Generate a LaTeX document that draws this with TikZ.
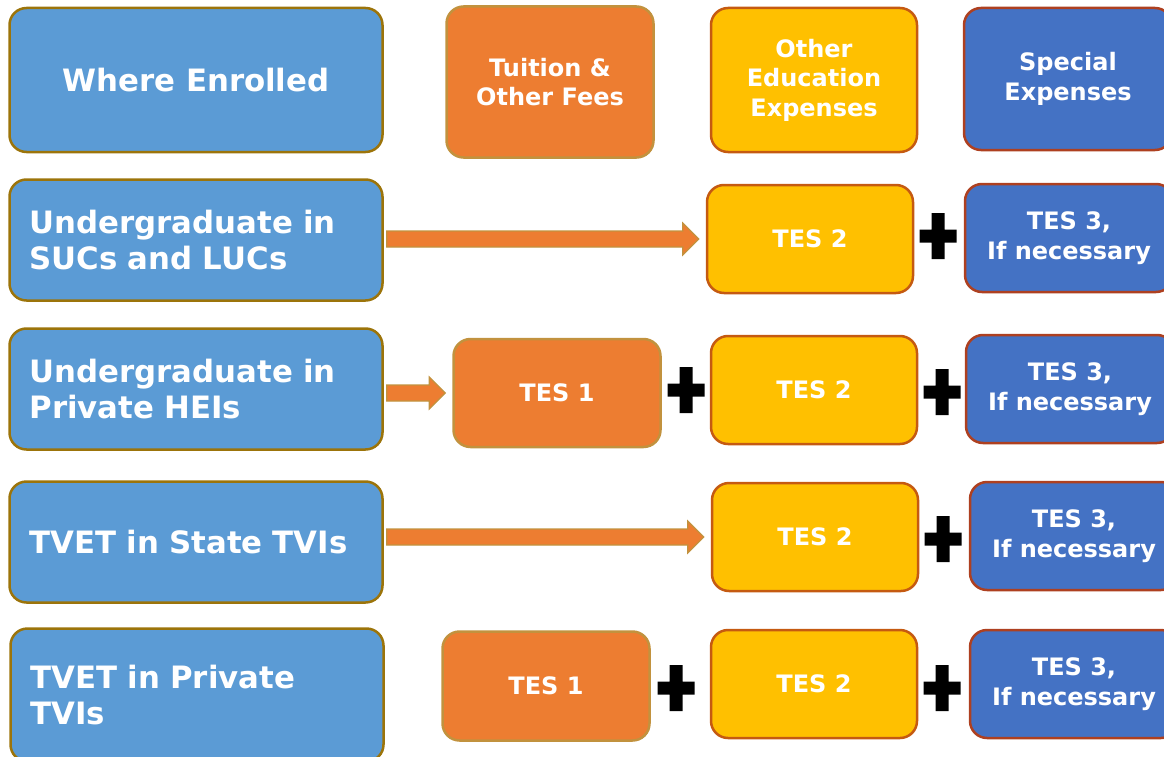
\documentclass[tikz,border=0pt]{standalone}
\usepackage{fontspec}
\setmainfont{DejaVu Sans}
\usetikzlibrary{calc}

\definecolor{enrolblue}{RGB}{91,155,213}
\definecolor{enrolline}{RGB}{156,116,10}
\definecolor{feeorange}{RGB}{237,125,49}
\definecolor{feeline}{RGB}{194,146,62}
\definecolor{expyellow}{RGB}{255,192,0}
\definecolor{expline}{RGB}{197,90,17}
\definecolor{specblue}{RGB}{68,114,196}
\definecolor{specline}{RGB}{174,64,32}

% fat arrow from the east side of #1 to the west side of #2
\newcommand{\FatArrow}[2]{%
  \draw[Arrow] let \p1=(#1.east), \p2=(#2.west) in
    (\x1+3pt,\y2+8pt) -- (\x2-23pt,\y2+8pt) -- (\x2-23pt,\y2+16pt)
    -- (\x2-7pt,\y2) -- (\x2-23pt,\y2-16pt) -- (\x2-23pt,\y2-8pt)
    -- (\x1+3pt,\y2-8pt) -- cycle;}
% heavy plus sign
\newcommand{\PlusSign}[1]{%
  \fill #1 +(-18.5,-6.5) rectangle +(18.5,6.5)
        #1 +(-6.5,-23) rectangle +(6.5,23);}

\begin{document}
\begin{tikzpicture}[x=1pt,y=-1pt]

  \useasboundingbox (0,0) rectangle (1164,757);
  \clip (0,0) rectangle (1164,757);

  % node styles
  \tikzstyle{Box}=[
  shape=rectangle,rounded corners=17pt,draw,
  line width=2.5pt,
  text=white,
  align=center,
  inner sep=0pt,
  font=\fontsize{24}{29.5}\selectfont\bfseries]

  \tikzstyle{Where}=[Box,fill=enrolblue,draw=enrolline,
  minimum width=373pt,minimum height=121pt,
  font=\fontsize{30.8}{36}\selectfont\bfseries]
  \tikzstyle{Left}=[Where,align=left,text width=333pt,inner xsep=20pt]
  \tikzstyle{Fee}=[Box,fill=feeorange,draw=feeline,minimum width=207pt,minimum height=108pt]
  \tikzstyle{Other}=[Box,fill=expyellow,draw=expline,minimum width=206pt,minimum height=108pt]
  \tikzstyle{Special}=[Box,fill=specblue,draw=specline,minimum width=208pt,minimum height=108pt]
  \tikzstyle{Arrow}=[fill=feeorange,draw=feeline,line width=1.2pt]

  % header
  \node[Where,minimum height=144pt] (E0) at (196,80) {Where Enrolled};
  \node[Fee,minimum height=151pt]   (F0) at (550,82) {Tuition \&\\Other Fees};
  \node[Other,minimum height=144pt] (O0) at (814,80) {Other\\Education\\Expenses};
  \node[Special,minimum height=142pt] (S0) at (1068,79) {Special\\Expenses};

  % rows
  \node[Left]    (E1) at (196,240) {Undergraduate in\\SUCs and LUCs};
  \node[Other]   (O1) at (810,239) {TES 2};
  \node[Special] (S1) at (1069,238) {TES 3,\\If necessary};

  \node[Left]    (E2) at (196,389) {Undergraduate in\\Private HEIs};
  \node[Fee]     (F2) at (557,393) {TES 1};
  \node[Other]   (O2) at (814,390) {TES 2};
  \node[Special] (S2) at (1070,389) {TES 3,\\If necessary};

  \node[Left]    (E3) at (196,542) {TVET in State TVIs};
  \node[Other]   (O3) at (815,537) {TES 2};
  \node[Special] (S3) at (1074,536) {TES 3,\\If necessary};

  \node[Left,minimum height=133pt] (E4) at (197,695) {TVET in Private\\TVIs};
  \node[Fee,minimum height=109pt]  (F4) at (546,686) {TES 1};
  \node[Other]   (O4) at (814,684) {TES 2};
  \node[Special] (S4) at (1074,684) {TES 3,\\If necessary};

  \FatArrow{E1}{O1}
  \FatArrow{E2}{F2}
  \FatArrow{E3}{O3}

  \PlusSign{(938,236)}
  \PlusSign{(686,390)}
  \PlusSign{(942,392)}
  \PlusSign{(943,539)}
  \PlusSign{(676,688)}
  \PlusSign{(942,688)}

\end{tikzpicture}
\end{document}
